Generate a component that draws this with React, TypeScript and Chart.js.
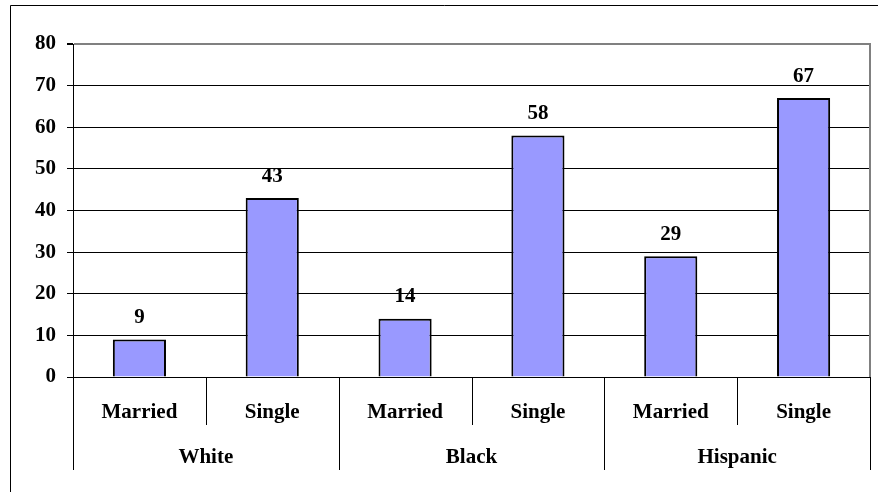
import React, { useEffect, useRef } from "react";
import { Chart, registerables } from "chart.js";

Chart.register(...registerables);

// Two-level category axis: status within each group
const subLabels = ["Married", "Single", "Married", "Single", "Married", "Single"];
const groupLabels = ["White", "Black", "Hispanic"];
const values = [9, 43, 14, 58, 29, 67];
const yTicks = [0, 10, 20, 30, 40, 50, 60, 70, 80];

const FONT = '"Liberation Serif", "Times New Roman", serif';
const W = 878;
const H = 492;

const framePlugin = {
  id: "frame",
  afterDraw(chart: any) {
    const { ctx, chartArea, scales } = chart;
    const x = scales.x;
    ctx.save();

    // outer border (top and left edges)
    ctx.strokeStyle = "#000";
    ctx.lineWidth = 1;
    ctx.beginPath();
    ctx.moveTo(10.5, H);
    ctx.lineTo(10.5, 5.5);
    ctx.lineTo(W, 5.5);
    ctx.stroke();

    // plot area right edge
    ctx.strokeStyle = "#808080";
    ctx.lineWidth = 2;
    ctx.beginPath();
    ctx.moveTo(chartArea.right, chartArea.top - 1);
    ctx.lineTo(chartArea.right, chartArea.bottom);
    ctx.stroke();

    // category separators and labels
    const p0 = x.getPixelForValue(0);
    const p1 = x.getPixelForValue(1);
    const catW = p1 - p0;
    const bottom = chartArea.bottom;
    ctx.strokeStyle = "#000";
    ctx.lineWidth = 1;
    for (let i = 0; i <= subLabels.length; i++) {
      const bx = Math.round(p0 - catW / 2 + i * catW) + 0.5;
      const end = i % 2 === 0 ? 470 : 425;
      ctx.beginPath();
      ctx.moveTo(bx, bottom);
      ctx.lineTo(bx, end);
      ctx.stroke();
    }

    ctx.fillStyle = "#000";
    ctx.font = `bold 21px ${FONT}`;
    ctx.textAlign = "center";
    ctx.textBaseline = "alphabetic";
    subLabels.forEach((lab, i) => {
      ctx.fillText(lab, x.getPixelForValue(i), 418);
    });
    groupLabels.forEach((lab, g) => {
      const cx = (x.getPixelForValue(g * 2) + x.getPixelForValue(g * 2 + 1)) / 2;
      ctx.fillText(lab, cx, 462.5);
    });
    ctx.restore();
  },
  afterDatasetsDraw(chart: any) {
    const { ctx } = chart;
    const meta = chart.getDatasetMeta(0);
    ctx.save();
    ctx.fillStyle = "#000";
    ctx.font = `bold 21px ${FONT}`;
    ctx.textAlign = "center";
    ctx.textBaseline = "alphabetic";
    meta.data.forEach((bar: any, i: number) => {
      ctx.fillText(String(values[i]), bar.x, bar.y - 16.5);
    });
    ctx.restore();
  },
};

export default function App() {
  const ref = useRef<HTMLCanvasElement>(null);

  useEffect(() => {
    if (!ref.current) return;
    const chart = new Chart(ref.current, {
      type: "bar",
      data: {
        labels: subLabels,
        datasets: [
          {
            data: values,
            backgroundColor: "#9999FF",
            borderColor: "#000",
            borderWidth: 2,
            categoryPercentage: 1,
            barPercentage: 0.4,
          },
        ],
      },
      options: {
        responsive: false,
        animation: false,
        layout: { padding: { top: 44, right: 8, left: 0, bottom: 0 } },
        plugins: {
          legend: { display: false },
          tooltip: { enabled: false },
          title: { display: false },
        },
        scales: {
          x: {
            type: "category",
            offset: true,
            grid: { display: false },
            border: { display: false },
            ticks: { display: false },
            afterFit: (s: any) => {
              s.height = 115;
            },
          },
          y: {
            min: 0,
            max: 80,
            afterBuildTicks: (s: any) => {
              s.ticks = yTicks.map((v) => ({ value: v }));
            },
            afterFit: (s: any) => {
              s.width = 73;
            },
            grid: {
              color: (c: any) => (c.tick && c.tick.value === 80 ? "#808080" : "#000"),
              lineWidth: (c: any) => (c.tick && c.tick.value === 80 ? 2 : 1),
              tickColor: "#000",
              tickLength: 6,
            },
            border: { display: true, color: "#000", width: 1 },
            ticks: {
              color: "#000",
              padding: 11,
              font: { family: FONT, size: 21, weight: "bold" },
            },
          },
        },
      },
      plugins: [framePlugin],
    });
    return () => chart.destroy();
  }, []);

  return (
    <div
      style={{
        position: "absolute",
        left: 0,
        top: 0,
        width: W,
        height: H,
        background: "#fff",
      }}
    >
      <canvas ref={ref} width={W} height={H} style={{ display: "block" }} />
    </div>
  );
}
